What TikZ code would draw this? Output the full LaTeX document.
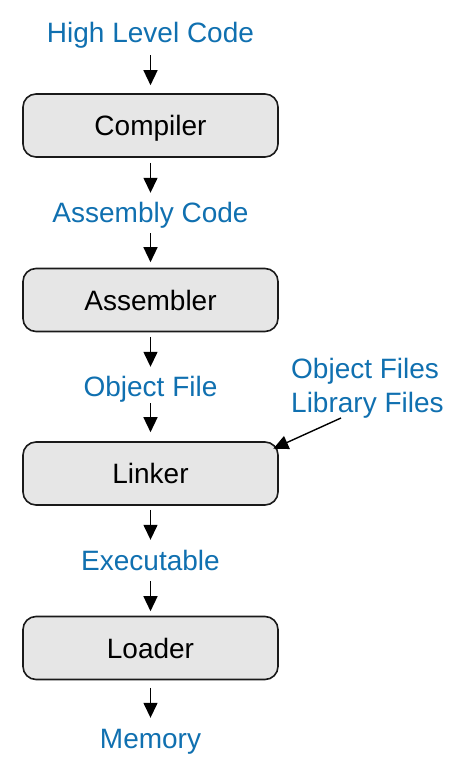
\documentclass[tikz,border=0pt]{standalone}
\usepackage{fontspec}
\setmainfont{Liberation Sans}
\usetikzlibrary{calc,arrows.meta}
\definecolor{lblue}{HTML}{1070B0}
\definecolor{boxfill}{HTML}{E6E6E6}
\definecolor{boxline}{HTML}{1A1A1A}
\begin{document}
\begin{tikzpicture}[x=1pt,y=-1pt,
  stagebox/.style={draw=boxline, line width=1.6pt, fill=boxfill, rounded corners=13pt,
    minimum width=255pt, minimum height=63pt, inner sep=0pt,
    text height=20pt, text depth=0pt, font=\fontsize{28}{33}\selectfont},
  lbl/.style={text=lblue, inner sep=0pt, anchor=base, text height=20pt, text depth=0pt,
    font=\fontsize{28}{33}\selectfont},
  arr/.style={-{Triangle[length=15pt,width=14pt]}, line width=1.4pt, black}]
\useasboundingbox (0,0) rectangle (462,784);
% labels
\node[lbl] (hlc) at (150.5,43) {High Level Code};
\node[lbl] (asmc) at (150.5,222) {Assembly Code};
\node[lbl] (obj) at (150.5,396) {Object File};
\node[lbl] (exe) at (150.5,570) {Executable};
\node[lbl] (mem) at (150.5,748) {Memory};
% boxes
\node[stagebox] (comp) at (150.5,125.5) {Compiler};
\node[stagebox] (asmb) at (150.5,300) {Assembler};
\node[stagebox] (link) at (150.5,473.5) {Linker};
\node[stagebox] (load) at (150.5,648) {Loader};
% side label
\node[text=lblue, inner sep=0pt, anchor=north west, align=left,
  font=\fontsize{28}{34}\selectfont] (libs) at (291,358.5) {Object Files\\Library Files};
\coordinate (libstart) at (341,418);
% arrows
\draw[arr, shorten <=12pt, shorten >=8pt] (hlc) -- (comp);
\draw[arr, shorten <=5pt, shorten >=9pt] (comp) -- (asmc);
\draw[arr, shorten <=11pt, shorten >=5.5pt] (asmc) -- (asmb);
\draw[arr, shorten <=4.5pt, shorten >=9pt] (asmb) -- (obj);
\draw[arr, shorten <=7pt, shorten >=9pt] (obj) -- (link);
\draw[arr, shorten <=4pt, shorten >=10pt] (link) -- (exe);
\draw[arr, shorten <=11pt, shorten >=4.5pt] (exe) -- (load);
\draw[arr, shorten <=7.5pt, shorten >=10pt] (load) -- (mem);
\draw[arr] (libstart) -- ($(link.north east)+(-5.5,7.5)$);
\end{tikzpicture}
\end{document}
